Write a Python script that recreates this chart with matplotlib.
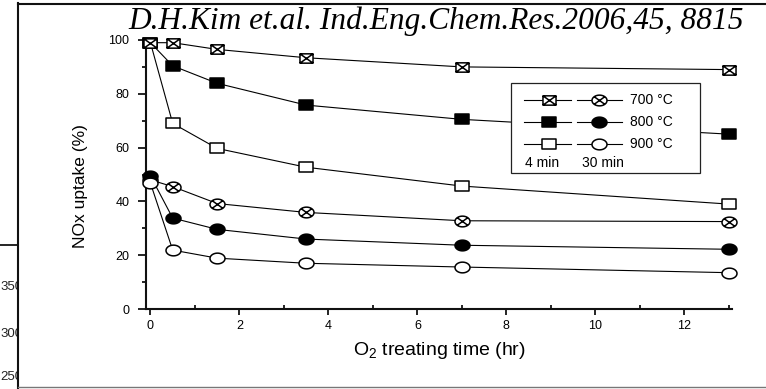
import numpy as np
import matplotlib
matplotlib.use('agg')
import matplotlib.pyplot as plt
from matplotlib.path import Path
from matplotlib.patches import Rectangle

plt.rcParams['font.family'] = ['Liberation Sans', 'DejaVu Sans']
plt.rcParams['mathtext.fontset'] = 'custom'
plt.rcParams['mathtext.rm'] = 'Liberation Sans'
plt.rcParams['mathtext.it'] = 'Liberation Sans:italic'

W, H = 766, 389

# NOx uptake after O2 treatment, two pretreatment times (4 min / 30 min)
time_hr = [0, 0.5, 1.5, 3.5, 7, 13]
uptake_700_4min = [99, 99, 96.5, 93.4, 90, 89]
uptake_800_4min = [99, 90.4, 83.9, 75.8, 70.5, 65]
uptake_900_4min = [99, 69, 59.7, 52.7, 45.7, 39]
uptake_700_30min = [48, 45.5, 39.2, 35.9, 32.8, 32.5]
uptake_800_30min = [49.5, 33.8, 29.6, 26, 23.7, 22.2]
uptake_900_30min = [46.8, 21.9, 18.9, 17, 15.6, 13.5]
temperatures = ['700 \u00b0C', '800 \u00b0C', '900 \u00b0C']
duration_labels = ['4 min', '30 min']
yticks = [0, 20, 40, 60, 80, 100]
xticks = [0, 2, 4, 6, 8, 10, 12]
side_labels = ['350', '300', '250']

title = 'D.H.Kim et.al. Ind.Eng.Chem.Res.2006,45, 8815'


# markers are a bit wider than tall
ASP = 1.4


def rect_marker(cross=False):
    verts = [(-ASP, -1), (ASP, -1), (ASP, 1), (-ASP, 1), (-ASP, -1)]
    codes = [Path.MOVETO] + [Path.LINETO] * 3 + [Path.CLOSEPOLY]
    if cross:
        verts += [(-ASP, -1), (ASP, 1), (-ASP, 1), (ASP, -1)]
        codes += [Path.MOVETO, Path.LINETO, Path.MOVETO, Path.LINETO]
    return Path(verts, codes)


def ellipse_marker(cross=False):
    t = np.linspace(0, 2 * np.pi, 61)
    verts = list(zip(ASP * np.cos(t), np.sin(t)))
    codes = [Path.MOVETO] + [Path.LINETO] * 59 + [Path.CLOSEPOLY]
    if cross:
        c = np.sqrt(0.5)
        verts += [(-ASP * c, -c), (ASP * c, c), (-ASP * c, c), (ASP * c, -c)]
        codes += [Path.MOVETO, Path.LINETO, Path.MOVETO, Path.LINETO]
    return Path(verts, codes)


sq_style = dict(markersize=9.4, markeredgewidth=1.1, markeredgecolor='k')
ci_style = dict(markersize=10.8, markeredgewidth=1.1, markeredgecolor='k')
marker_4min = [dict(marker=rect_marker(True), markerfacecolor='white', **sq_style),
               dict(marker=rect_marker(), markerfacecolor='k', **sq_style),
               dict(marker=rect_marker(), markerfacecolor='white', **sq_style)]
marker_30min = [dict(marker=ellipse_marker(True), markerfacecolor='white', **ci_style),
                dict(marker=ellipse_marker(), markerfacecolor='k', **ci_style),
                dict(marker=ellipse_marker(), markerfacecolor='white', **ci_style)]

fig = plt.figure(figsize=(W / 100, H / 100), dpi=100)

# page background: frame, and the edge of a neighbouring figure on the left
bg = fig.add_axes([0, 0, 1, 1], zorder=0)
bg.set_xlim(0, W)
bg.set_ylim(H, 0)
bg.axis('off')
for lab, y in zip(side_labels, [287, 334, 377]):
    bg.text(0.5, y, lab, fontsize=9.5, va='center', ha='left', color='#222',
            zorder=1)
bg.plot([0, 18], [245, 245], color='k', lw=1.2, zorder=1)
bg.add_patch(Rectangle((18.5, 3.5), W, 383.5, fc='white', ec='none', zorder=5))
bg.plot([18.3, 18.3], [2.8, 387.5], color='#111', lw=1.5, zorder=6)
bg.plot([18.3, W], [3.6, 3.6], color='#111', lw=1.5, zorder=6)
bg.plot([18.3, W], [387, 387], color='#777', lw=1.0, zorder=6)

# main plot
x0, x1 = 146, 732
y0, y1 = 309, 40
ax = fig.add_axes([x0 / W, 1 - y0 / H, (x1 - x0) / W, (y0 - y1) / H], zorder=1)
ax.patch.set_alpha(0)

series_4min = [uptake_700_4min, uptake_800_4min, uptake_900_4min]
series_30min = [uptake_700_30min, uptake_800_30min, uptake_900_30min]
for i in [2, 1, 0]:
    ax.plot(time_hr, series_4min[i], color='k', lw=0.8, clip_on=False,
            zorder=3 + (2 - i) * 0.1, **marker_4min[i])
for i in [0, 1, 2]:
    ax.plot(time_hr, series_30min[i], color='k', lw=0.8, clip_on=False,
            zorder=3 + i * 0.1, **marker_30min[i])

ax.set_xlim(-0.1, 13.07)
ax.set_ylim(0, 100)
ax.set_xticks(xticks)
ax.set_xticks(np.arange(1, 14, 2), minor=True)
ax.set_yticks(yticks)
ax.set_yticks(np.arange(10, 100, 20), minor=True)
for side in ['top', 'right']:
    ax.spines[side].set_visible(False)
for side in ['left', 'bottom']:
    ax.spines[side].set_linewidth(1.5)
    ax.spines[side].set_color('#111')
ax.tick_params(axis='y', which='major', direction='out', length=6, width=1.2,
               pad=6, labelsize=9)
ax.tick_params(axis='y', which='minor', direction='out', length=3, width=1.2)
ax.tick_params(axis='x', which='major', direction='out', length=4, width=1.2,
               pad=4, labelsize=9)
ax.tick_params(axis='x', which='minor', direction='in', length=3, width=1.2)

ax.set_ylabel('NOx uptake (%)', fontsize=12.5)
ax.yaxis.set_label_coords((88 - x0) / (x1 - x0), 1 - (186 - y1) / (y0 - y1))
ax.set_xlabel('O$_2$ treating time (hr)', fontsize=14)
ax.xaxis.set_label_coords(0.5, (y0 - 340) / (y0 - y1))

# legend drawn by hand in pixel coordinates
ov = fig.add_axes([0, 0, 1, 1], zorder=2)
ov.set_xlim(0, W)
ov.set_ylim(H, 0)
ov.axis('off')
ov.patch.set_alpha(0)
ov.add_patch(Rectangle((510.5, 82.5), 189.5, 90.5, fc='white', ec='#222', lw=0.9))
for y, m4, m30, lab in zip([100, 122, 144], marker_4min, marker_30min, temperatures):
    ov.plot([524, 571], [y, y], color='k', lw=0.8)
    ov.plot([548.5], [y], **m4)
    ov.plot([577, 622], [y, y], color='k', lw=0.8)
    ov.plot([599], [y], **m30)
    ov.text(630, y, lab, fontsize=10, va='center', ha='left')
ov.text(525, 163, duration_labels[0], fontsize=10, va='center', ha='left')
ov.text(582, 163, duration_labels[1], fontsize=10, va='center', ha='left')

fig.text(128 / W, 1 - 29 / H, title, fontfamily='Liberation Serif',
         style='italic', fontsize=22.6, va='baseline', ha='left')

fig.savefig('out.png', dpi=100)
